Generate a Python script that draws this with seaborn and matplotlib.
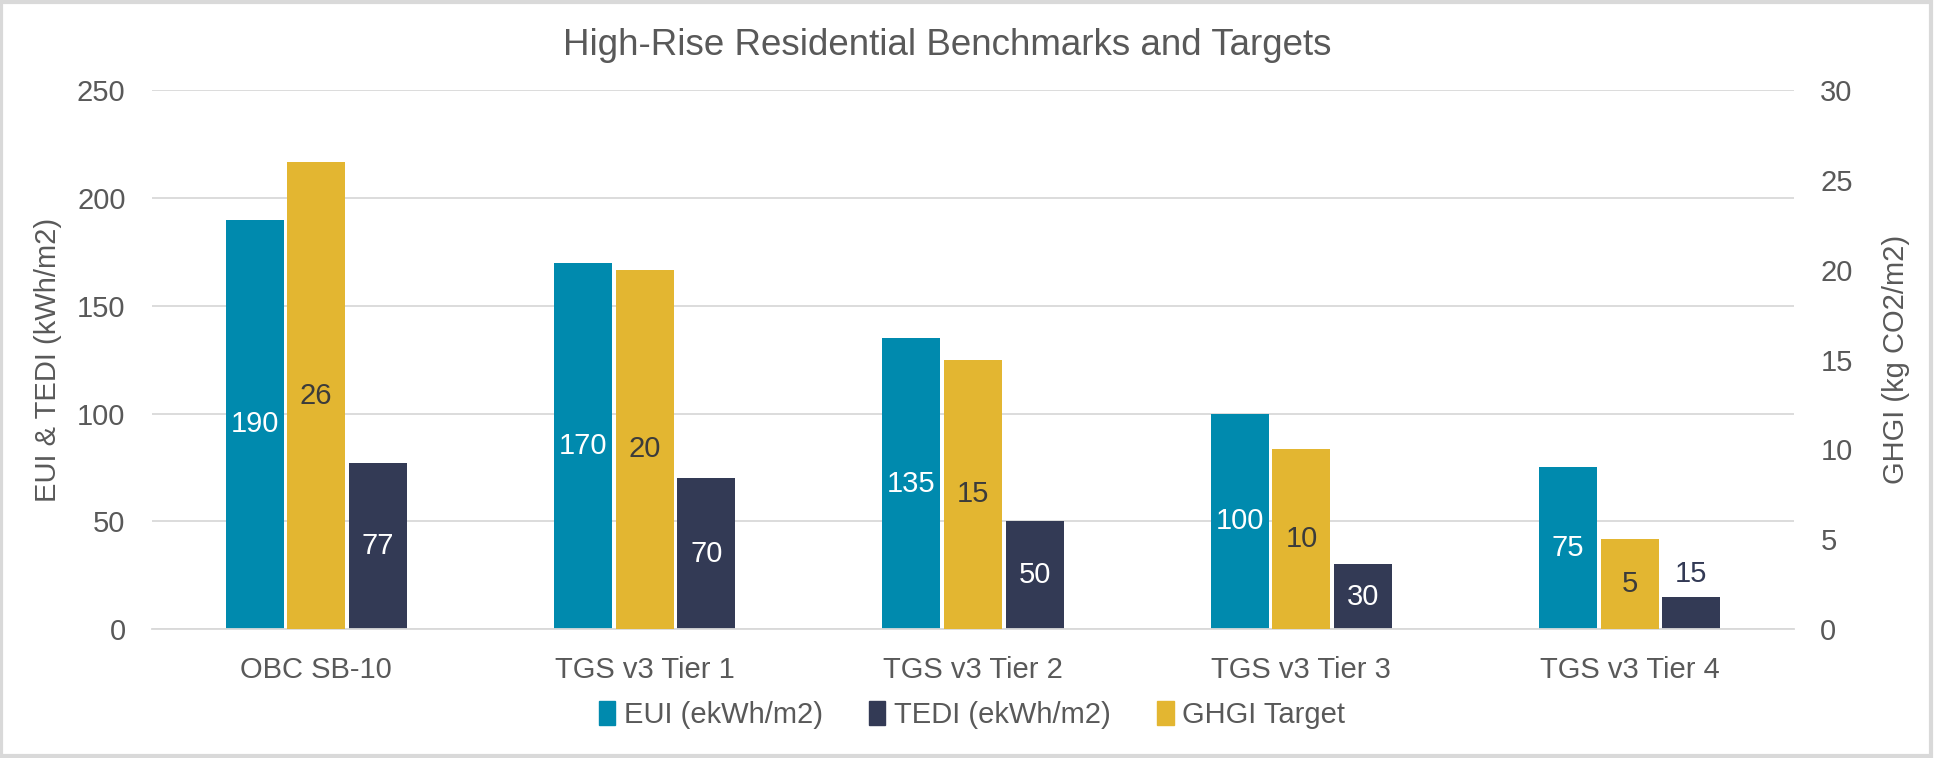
import numpy as np
import pandas as pd
import matplotlib
matplotlib.use("Agg")
import matplotlib.pyplot as plt
import seaborn as sns
from matplotlib.patches import Patch, Rectangle

categories = ["OBC SB-10", "TGS v3 Tier 1", "TGS v3 Tier 2", "TGS v3 Tier 3", "TGS v3 Tier 4"]
eui = [190, 170, 135, 100, 75]
tedi = [77, 70, 50, 30, 15]
ghgi = [26, 20, 15, 10, 5]

EUI_NAME = "EUI (ekWh/m2)"
TEDI_NAME = "TEDI (ekWh/m2)"
GHGI_NAME = "GHGI Target"

colors = {EUI_NAME: "#008AAE", GHGI_NAME: "#E3B631", TEDI_NAME: "#333A55"}
hue_order = [EUI_NAME, GHGI_NAME, TEDI_NAME]
TXT = "#595959"
FS = 21

sns.set_theme(style="white")
plt.rcParams["font.family"] = ["Liberation Sans", "DejaVu Sans"]

long = pd.DataFrame({
    "cat": categories * 3,
    "value": eui + ghgi + tedi,
    "series": [EUI_NAME] * 5 + [GHGI_NAME] * 5 + [TEDI_NAME] * 5,
})
# each axis keeps all three hue levels so the bars dodge the same way;
# series belonging to the other axis are zero-height placeholders
primary = long.assign(value=long["value"].where(long["series"] != GHGI_NAME, 0))
secondary = long.assign(value=long["value"].where(long["series"] == GHGI_NAME, 0))

fig = plt.figure(figsize=(19.34, 7.58), dpi=100)
ax = fig.add_axes([0.0786, 0.170, 0.849, 0.711])
ax2 = ax.twinx()

bar_kw = dict(x="cat", y="value", hue="series", hue_order=hue_order, palette=colors,
              width=0.563, gap=0.06, saturation=1, linewidth=0, legend=False)
sns.barplot(data=primary, ax=ax, **bar_kw)
sns.barplot(data=secondary, ax=ax2, **bar_kw)

ax.set_ylim(0, 250)
ax2.set_ylim(0, 30)
ax.set_yticks(range(0, 251, 50))
ax2.set_yticks(range(0, 31, 5))
ax.set_xlim(-0.5, 4.5)
ax2.set_xlim(-0.5, 4.5)

ax.yaxis.grid(True, color="#D9D9D9", linewidth=1.3)
ax.set_axisbelow(True)
for a in (ax, ax2):
    for s in a.spines.values():
        s.set_visible(False)
ax.spines["bottom"].set_visible(True)
ax.spines["bottom"].set_color("#D9D9D9")
ax.spines["bottom"].set_linewidth(1.3)

ax.tick_params(axis="y", length=0, pad=19, labelsize=FS, labelcolor=TXT)
ax2.tick_params(axis="y", length=0, pad=19, labelsize=FS, labelcolor=TXT)
ax.tick_params(axis="x", length=0, pad=19, labelsize=FS, labelcolor=TXT)

ax.set_xlabel("")
ax.set_ylabel("EUI & TEDI (kWh/m2)", fontsize=FS, color=TXT)
ax2.set_ylabel("GHGI (kg CO2/m2)", fontsize=FS, color=TXT)
ax.yaxis.set_label_coords(-0.0548, 0.5)
ax2.yaxis.set_label_coords(1.0536, 0.5)

fig.suptitle("High-Rise Residential Benchmarks and Targets", x=0.49, y=0.963,
             fontsize=26.5, color=TXT)


def bars_of(axis, name):
    rgb = matplotlib.colors.to_rgb(colors[name])
    found = [p for p in axis.patches
             if np.allclose(p.get_facecolor()[:3], rgb) and p.get_height() > 0]
    return sorted(found, key=lambda p: p.get_x())


for p, v in zip(bars_of(ax, EUI_NAME), eui):
    ax.text(p.get_x() + p.get_width() / 2, p.get_height() / 2, f"{v}", ha="center",
            va="center", fontsize=FS, color="white")
for p, v in zip(bars_of(ax, TEDI_NAME), tedi):
    x = p.get_x() + p.get_width() / 2
    if p.get_height() < 25:
        ax.annotate(f"{v}", (x, p.get_height()), xytext=(0, 6), textcoords="offset points",
                    ha="center", va="bottom", fontsize=FS, color=colors[TEDI_NAME])
    else:
        ax.text(x, p.get_height() / 2, f"{v}", ha="center", va="center", fontsize=FS,
                color="white")
for p, v in zip(bars_of(ax2, GHGI_NAME), ghgi):
    ax2.text(p.get_x() + p.get_width() / 2, p.get_height() / 2, f"{v}", ha="center",
             va="center", fontsize=FS, color="#3B3B3B")

legend_order = [EUI_NAME, TEDI_NAME, GHGI_NAME]
handles = [Patch(color=colors[n]) for n in legend_order]
fig.legend(handles, legend_order, loc="center", bbox_to_anchor=(0.5026, 0.057),
           ncol=3, frameon=False, fontsize=FS, handlelength=0.55, handleheight=0.9,
           handletextpad=0.3, columnspacing=1.6, labelcolor=TXT)

fig.patches.append(Rectangle((0.0005, 0.002), 0.998, 0.996, transform=fig.transFigure,
                             fill=False, edgecolor="#D9D9D9", linewidth=3))

fig.savefig("out.png", dpi=100, facecolor="white")
